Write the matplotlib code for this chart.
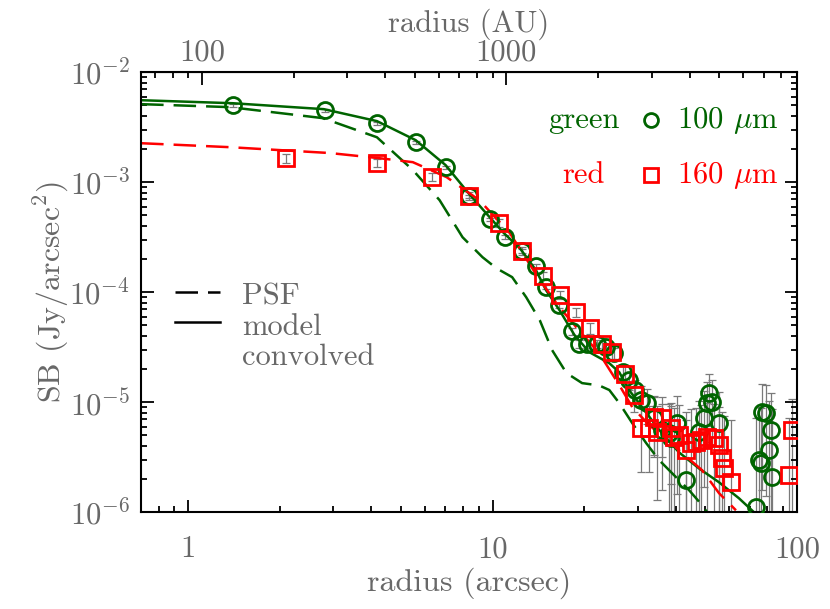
import matplotlib
matplotlib.use('Agg')
import matplotlib.pyplot as plt
import matplotlib.ticker as ticker

plt.rcParams['font.family'] = 'cmr10'
plt.rcParams['mathtext.fontset'] = 'cm'
plt.rcParams['axes.formatter.use_mathtext'] = True
plt.rcParams['axes.unicode_minus'] = False

# --- data ---
# green 100 micron profile (arcsec, Jy/arcsec^2, error)
green_r = [1.40, 2.81, 4.17, 5.59, 7.01, 8.34, 9.78, 11.0, 12.5, 13.9,
           15.0, 16.6, 18.2, 19.3, 20.5, 22.1, 23.6, 25.1, 26.9, 28.1,
           29.4, 30.8, 32.2, 34.0, 36.1, 38.0, 38.6, 40.4, 43.3, 47.7,
           49.6, 50.7, 51.4, 52.6, 55.5, 73.4, 75.0, 76.2, 76.8, 79.1,
           81.0, 82.2, 82.8]
green_sb = [5.0e-3, 4.52e-3, 3.44e-3, 2.31e-3, 1.37e-3, 7.46e-4, 4.6e-4, 3.16e-4, 2.36e-4, 1.72e-4,
            1.11e-4, 7.6e-5, 4.4e-5, 3.4e-5, 3.4e-5, 3.4e-5, 3.16e-5, 2.79e-5, 1.87e-5, 1.58e-5,
            1.29e-5, 1.04e-5, 9.8e-6, 7.2e-6, 5.6e-6, 5.2e-6, 4.7e-6, 6.45e-6, 1.95e-6, 5.3e-6,
            7.2e-6, 9.8e-6, 1.21e-5, 1.0e-5, 6.45e-6, 1.11e-6, 2.97e-6, 2.79e-6, 8.1e-6, 7.9e-6,
            3.66e-6, 5.6e-6, 2.08e-6]
green_err = [1.5e-4, 1.4e-4, 1.0e-4, 7e-5, 4.5e-5, 2.5e-5, 1.6e-5, 1.2e-5, 9e-6, 7e-6,
             5e-6, 4e-6, 3e-6, 3e-6, 3e-6, 3e-6, 3e-6, 3e-6, 3e-6, 3e-6,
             3e-6, 3.5e-6, 3.5e-6, 4e-6, 4e-6, 4.5e-6, 4.5e-6, 5e-6, 5e-6, 5e-6,
             5.5e-6, 5.5e-6, 6e-6, 6e-6, 6e-6, 6e-6, 6e-6, 6e-6, 6.5e-6, 6.5e-6,
             6.5e-6, 6.5e-6, 6.5e-6]

# red 160 micron profile
red_r = [2.10, 4.17, 6.31, 8.34, 10.5, 12.5, 14.7, 16.7, 18.8, 20.9,
         22.9, 24.7, 27.3, 29.2, 30.8, 32.7, 33.9, 34.6, 36.1, 38.6,
         39.5, 41.0, 43.3, 44.9, 46.6, 48.4, 50.7, 53.4, 55.5, 56.8,
         57.6, 60.7, 94.1, 96.3]
red_sb = [1.65e-3, 1.49e-3, 1.11e-3, 7.46e-4, 4.24e-4, 2.36e-4, 1.40e-4, 9.4e-5, 6.6e-5, 4.7e-5,
          3.4e-5, 2.85e-5, 1.80e-5, 1.16e-5, 5.8e-6, 5.8e-6, 7.3e-6, 5.3e-6, 7.2e-6, 5.8e-6,
          4.8e-6, 5.0e-6, 3.66e-6, 4.24e-6, 4.3e-6, 4.5e-6, 4.8e-6, 4.7e-6, 4.07e-6, 3.1e-6,
          2.5e-6, 1.87e-6, 2.17e-6, 5.6e-6]
red_err = [1.5e-4, 1.3e-4, 9e-5, 6e-5, 3.5e-5, 2e-5, 1.2e-5, 8e-6, 6e-6, 5e-6,
           4e-6, 4e-6, 3.5e-6, 3.5e-6, 3.5e-6, 3.5e-6, 4e-6, 4e-6, 4e-6, 4e-6,
           4e-6, 4.5e-6, 4.5e-6, 4.5e-6, 4.5e-6, 5e-6, 5e-6, 5e-6, 5e-6, 5e-6,
           5e-6, 5e-6, 5e-6, 5e-6]

# model convolved, 100 micron (solid green)
model_g_r = [0.70, 1.40, 2.79, 4.17, 5.59, 7.01, 8.34, 9.78, 10.9, 12.3, 13.9, 15.0,
             16.6, 18.6, 20.8, 24.2, 26.1, 28.1, 31.5, 35.3, 41.0, 47.7, 55.5, 64.5, 72.3]
model_g_sb = [5.56e-3, 5.22e-3, 4.61e-3, 3.59e-3, 2.41e-3, 1.43e-3, 7.94e-4, 4.81e-4, 3.44e-4, 2.51e-4, 1.58e-4, 1.04e-4,
              6.86e-5, 4.07e-5, 2.85e-5, 2.26e-5, 1.87e-5, 1.29e-5, 8.5e-6, 5.6e-6, 3.5e-6, 2.5e-6, 1.87e-6, 1.34e-6, 1.0e-6]

# PSF 100 micron (dashed green)
psf_g_r = [0.70, 1.37, 2.77, 4.17, 5.47, 6.70, 7.97, 9.27, 10.3, 11.6, 12.9, 14.3, 15.7, 17.5,
           19.7, 22.4, 24.2, 26.1, 28.8, 32.0, 35.3, 40.1, 44.3, 48.8, 50.7]
psf_g_sb = [5.12e-3, 4.81e-3, 3.82e-3, 2.56e-3, 1.29e-3, 6.86e-4, 3.16e-4, 2.08e-4, 1.65e-4, 1.37e-4, 9.0e-5, 5.56e-5, 2.97e-5, 1.84e-5,
            1.49e-5, 1.42e-5, 1.29e-5, 9.8e-6, 6.44e-6, 4.24e-6, 2.97e-6, 2.08e-6, 1.58e-6, 1.16e-6, 1.0e-6]

# PSF 160 micron (dashed red)
psf_r_r = [0.70, 1.37, 2.92, 4.26, 5.47, 7.07, 9.05, 11.4, 14.3, 16.6, 19.2, 22.4, 26.1,
           28.8, 32.7, 37.5, 48.8, 55.5, 63.1]
psf_r_sb = [2.26e-3, 2.08e-3, 1.84e-3, 1.65e-3, 1.52e-3, 1.11e-3, 6.86e-4, 3.44e-4, 1.29e-4, 7.3e-5, 4.52e-5, 2.79e-5, 1.43e-5,
            9.0e-6, 6.2e-6, 4.52e-6, 2.41e-6, 1.49e-6, 1.04e-6]

dist_pc = 90.0  # AU per arcsec

GREEN = '#006400'
RED = '#ff0000'
TXT = '#686868'
FS = 22
DASH = (9, 4)

fig = plt.figure(figsize=(8.3, 6.09), dpi=100)
ax = fig.add_axes([0.170, 0.159, 0.790, 0.7225])
ax.set_xscale('log')
ax.set_yscale('log')

# curves
ax.plot(model_g_r, model_g_sb, color=GREEN, lw=1.8, zorder=2)
ax.plot(psf_g_r, psf_g_sb, color=GREEN, lw=1.8, dashes=DASH, zorder=2)
ax.plot(psf_r_r, psf_r_sb, color=RED, lw=1.8, dashes=DASH, zorder=2)

# data with error bars
ax.errorbar(green_r, green_sb, yerr=green_err, fmt='none', ecolor='#7a7a7a',
            elinewidth=0.9, capsize=3, capthick=0.9, zorder=1)
ax.errorbar(red_r, red_sb, yerr=red_err, fmt='none', ecolor='#7a7a7a',
            elinewidth=0.9, capsize=3, capthick=0.9, zorder=1)
ax.plot(green_r, green_sb, 'o', ms=11.5, mfc='none', mec=GREEN, mew=2.0, zorder=3)
ax.plot(red_r, red_sb, 's', ms=11.5, mfc='none', mec=RED, mew=2.0, zorder=3)

ax.set_xlim(0.7, 100)
ax.set_ylim(1e-6, 1e-2)

# axes styling
for sp in ax.spines.values():
    sp.set_linewidth(1.5)
ax.tick_params(which='both', direction='in', top=False, right=True,
               colors='black', labelcolor=TXT, labelsize=FS, width=1.3)
ax.tick_params(which='major', length=9)
ax.tick_params(which='minor', length=4.5)
ax.tick_params(axis='x', pad=17)
ax.tick_params(axis='y', pad=8)
ax.xaxis.set_major_locator(ticker.FixedLocator([1, 10, 100]))
ax.xaxis.set_major_formatter(ticker.FuncFormatter(lambda v, p: f'{v:g}'))
ax.xaxis.set_minor_formatter(ticker.NullFormatter())
ax.yaxis.set_major_locator(ticker.LogLocator(base=10, numticks=10))
ax.yaxis.set_minor_locator(ticker.LogLocator(base=10, subs=range(2, 10), numticks=10))
ax.yaxis.set_minor_formatter(ticker.NullFormatter())

ax.set_xlabel('radius (arcsec)', fontsize=FS + 1, color=TXT, labelpad=3)
ax.set_ylabel(r'SB (Jy/arcsec$^2$)', fontsize=FS + 1, color=TXT, labelpad=-1)

top = ax.secondary_xaxis('top', functions=(lambda r: r * dist_pc, lambda a: a / dist_pc))
top.tick_params(which='both', direction='in', labelcolor=TXT, labelsize=FS, width=1.3)
top.tick_params(which='major', length=9, pad=4)
top.tick_params(which='minor', length=4.5)
top.xaxis.set_major_locator(ticker.FixedLocator([100, 1000]))
top.xaxis.set_major_formatter(ticker.FuncFormatter(lambda v, p: f'{v:g}'))
top.xaxis.set_minor_formatter(ticker.NullFormatter())
top.set_xlabel('radius (AU)', fontsize=FS, color=TXT, labelpad=5)

# legend: bands (upper right)
ax.text(0.675, 0.891, 'green', color=GREEN, fontsize=FS, ha='center', va='center',
        transform=ax.transAxes)
ax.plot([0.777], [0.891], 'o', ms=10, mfc='none', mec=GREEN, mew=2.0, transform=ax.transAxes)
ax.text(0.817, 0.891, r'100 $\mu$m', color=GREEN, fontsize=FS, ha='left', va='center',
        transform=ax.transAxes)
ax.text(0.675, 0.766, 'red', color=RED, fontsize=FS, ha='center', va='center',
        transform=ax.transAxes)
ax.plot([0.777], [0.766], 's', ms=10, mfc='none', mec=RED, mew=2.0, transform=ax.transAxes)
ax.text(0.817, 0.766, r'160 $\mu$m', color=RED, fontsize=FS, ha='left', va='center',
        transform=ax.transAxes)

# legend: line styles (lower left)
ax.plot([0.052, 0.120], [0.50, 0.50], color='black', lw=1.8, dashes=DASH,
        transform=ax.transAxes)
ax.text(0.154, 0.489, 'PSF', color=TXT, fontsize=FS, ha='left', va='center',
        transform=ax.transAxes)
ax.plot([0.052, 0.120], [0.432, 0.432], color='black', lw=1.8, transform=ax.transAxes)
ax.text(0.154, 0.42, 'model', color=TXT, fontsize=FS, ha='left', va='center',
        transform=ax.transAxes)
ax.text(0.154, 0.352, 'convolved', color=TXT, fontsize=FS, ha='left', va='center',
        transform=ax.transAxes)

fig.savefig('out.png', dpi=100)
